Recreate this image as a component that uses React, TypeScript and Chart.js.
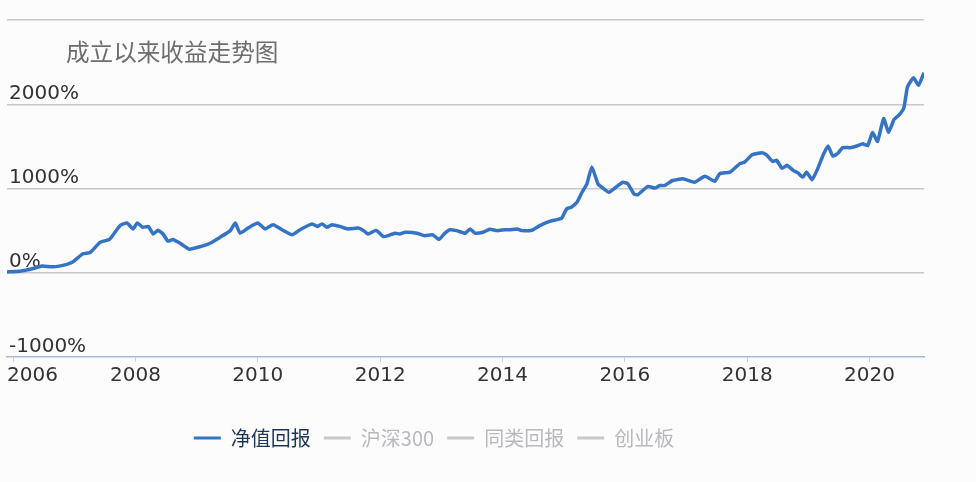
import React, { useEffect, useRef } from "react";
import { Chart, registerables } from "chart.js";

Chart.register(...registerables);

// ---- data ----
const chartTitle = "成立以来收益走势图";
const seriesNames = ["净值回报", "沪深300", "同类回报", "创业板"];

const years = [
  2005.9, 2006.11, 2006.33, 2006.47, 2006.65, 2006.88, 2006.98, 2007.14, 2007.26, 2007.42,
  2007.58, 2007.75, 2007.86, 2007.96, 2008.03, 2008.12, 2008.21, 2008.29, 2008.37, 2008.45,
  2008.53, 2008.61, 2008.73, 2008.88, 2009.06, 2009.22, 2009.38, 2009.55, 2009.63, 2009.71,
  2009.84, 2010.0, 2010.12, 2010.25, 2010.41, 2010.56, 2010.69, 2010.89, 2010.97, 2011.05,
  2011.13, 2011.21, 2011.34, 2011.47, 2011.64, 2011.72, 2011.8, 2011.92, 2011.96, 2012.05,
  2012.13, 2012.24, 2012.32, 2012.41, 2012.6, 2012.73, 2012.86, 2012.96, 2013.06, 2013.14,
  2013.25, 2013.39, 2013.47, 2013.55, 2013.68, 2013.79, 2013.91, 2014.04, 2014.12, 2014.24,
  2014.32, 2014.48, 2014.61, 2014.77, 2014.89, 2014.97, 2015.05, 2015.13, 2015.22, 2015.3,
  2015.38, 2015.46, 2015.56, 2015.64, 2015.74, 2015.87, 2015.97, 2016.05, 2016.15, 2016.21,
  2016.29, 2016.38, 2016.49, 2016.57, 2016.65, 2016.78, 2016.95, 2017.14, 2017.31, 2017.47,
  2017.55, 2017.72, 2017.88, 2017.96, 2018.08, 2018.24, 2018.32, 2018.42, 2018.48, 2018.57,
  2018.65, 2018.75, 2018.83, 2018.91, 2018.97, 2019.06, 2019.14, 2019.24, 2019.32, 2019.4,
  2019.48, 2019.56, 2019.68, 2019.79, 2019.89, 2019.97, 2020.05, 2020.13, 2020.23, 2020.31,
  2020.4, 2020.48, 2020.56, 2020.62, 2020.72, 2020.8, 2020.89,
];

const netValueReturn = [
  10, 18, 50, 80, 70, 100, 130, 225, 240, 360,
  400, 560, 590, 520, 590, 540, 550, 460, 505, 460,
  375, 395, 350, 280, 310, 350, 420, 500, 590, 470,
  530, 590, 520, 570, 505, 450, 510, 580, 550, 580,
  540, 570, 550, 520, 530, 505, 460, 500, 490, 430,
  440, 470, 460, 480, 470, 440, 450, 395, 470, 510,
  500, 470, 520, 470, 480, 515, 500, 510, 510, 520,
  500, 505, 560, 610, 630, 650, 760, 780, 840, 955,
  1055, 1255, 1055, 1005, 955, 1025, 1075, 1055, 935, 925,
  975, 1025, 1005, 1035, 1035, 1095, 1115, 1075, 1145, 1085,
  1175, 1195, 1295, 1315, 1400, 1425, 1395, 1320, 1335, 1240,
  1275, 1215, 1185, 1135, 1195, 1105, 1215, 1395, 1505, 1385,
  1415, 1485, 1485, 1505, 1530, 1510, 1665, 1560, 1830, 1665,
  1820, 1870, 1955, 2205, 2315, 2225, 2375,
];

// other series are switched off in the reference (no data shown)
const hs300Return: number[] = [];
const peerReturn: number[] = [];
const chinextReturn: number[] = [];

const xTickYears = [2006, 2008, 2010, 2012, 2014, 2016, 2018, 2020];
const yMin = -1000;
const yMax = 3000;
const yStep = 1000;

// ---- styles ----
const lineColors = ["#3574c4", "#c9c9cd", "#c9c9cd", "#c9c9cd"];
const legendTextColors = ["#1d3557", "#b9b9bd", "#b9b9bd", "#b9b9bd"];
const LEGEND_CENTER_X = 434;

const legendShift = {
  id: "legendShift",
  afterLayout(chart: any) {
    const lg = chart.legend;
    if (!lg) return;
    const cur = (lg.left + lg.right) / 2;
    const d = LEGEND_CENTER_X - cur;
    lg.left += d;
    lg.right += d;
  },
};

// keep the first x label inside the canvas (left-aligned at the plot's left edge)
const firstXLabelInside = {
  id: "firstXLabelInside",
  beforeDraw(chart: any) {
    const sx = chart.scales.x;
    if (!sx) return;
    const items = sx.getLabelItems();
    if (items && items.length) {
      const o = items[0].options;
      o.textAlign = "left";
      o.translation = [chart.chartArea.left, o.translation[1]];
    }
  },
};

export default function App() {
  const ref = useRef<HTMLCanvasElement | null>(null);

  useEffect(() => {
    if (!ref.current) return;
    const toPoints = (vals: number[]) => vals.map((v, i) => ({ x: years[i], y: v }));
    const chart = new Chart(ref.current, {
      type: "line",
      data: {
        datasets: [
          { label: seriesNames[0], data: toPoints(netValueReturn), borderColor: lineColors[0], backgroundColor: lineColors[0], borderWidth: 3.5, pointRadius: 0, tension: 0.15 },
          { label: seriesNames[1], data: toPoints(hs300Return), borderColor: lineColors[1], backgroundColor: lineColors[1], borderWidth: 2, pointRadius: 0 },
          { label: seriesNames[2], data: toPoints(peerReturn), borderColor: lineColors[2], backgroundColor: lineColors[2], borderWidth: 2, pointRadius: 0 },
          { label: seriesNames[3], data: toPoints(chinextReturn), borderColor: lineColors[3], backgroundColor: lineColors[3], borderWidth: 2, pointRadius: 0 },
        ],
      },
      options: {
        animation: false,
        responsive: false,
        maintainAspectRatio: false,
        layout: { padding: { top: 20, right: 52, bottom: 24, left: 0 } },
        plugins: {
          tooltip: { enabled: false },
          title: { display: false },
          legend: {
            display: true,
            position: "bottom",
            align: "center",
            labels: {
              boxWidth: 27,
              boxHeight: 3,
              padding: 13,
              font: { family: "'Noto Sans CJK SC', 'Noto Sans', sans-serif", size: 20 },
              generateLabels: (c: any) =>
                c.data.datasets.map((ds: any, i: number) => ({
                  text: ds.label,
                  fillStyle: ds.borderColor,
                  strokeStyle: ds.borderColor,
                  lineWidth: 0,
                  hidden: false,
                  datasetIndex: i,
                  fontColor: legendTextColors[i],
                })),
            },
          },
        },
        scales: {
          x: {
            type: "linear",
            min: years[0],
            max: years[years.length - 1],
            afterBuildTicks: (scale: any) => {
              scale.ticks = xTickYears.map((v) => ({ value: v }));
            },
            afterFit: (scale: any) => {
              scale.height = 58;
              scale.paddingLeft = 0;
              scale.paddingRight = 0;
            },
            border: { display: true, color: "#a9b9cf", width: 1.5 },
            grid: { drawOnChartArea: false, drawTicks: true, tickLength: 5, color: "#cfcfd3" },
            ticks: {
              padding: 2,
              color: "#333333",
              font: { family: "'DejaVu Sans', sans-serif", size: 20 },
              maxRotation: 0,
              autoSkip: false,
              callback: (v: any) => String(v),
            },
          },
          y: {
            type: "linear",
            min: yMin,
            max: yMax,
            afterFit: (scale: any) => {
              scale.width = 7;
              scale.paddingTop = 0;
              scale.paddingBottom = 0;
            },
            border: { display: false },
            grid: {
              drawTicks: false,
              lineWidth: 1.5,
              color: (ctx: any) => (ctx.tick && ctx.tick.value === yMin ? "rgba(0,0,0,0)" : "#c8c8cb"),
            },
            ticks: {
              stepSize: yStep,
              mirror: true,
              padding: 2,
              labelOffset: -10.5,
              color: "#333333",
              font: { family: "'DejaVu Sans', sans-serif", size: 20 },
              callback: (v: any) => (v === yMax ? "" : v + "%"),
            },
          },
        },
      },
      plugins: [legendShift, firstXLabelInside],
    });
    return () => chart.destroy();
  }, []);

  return (
    <div style={{ position: "fixed", left: 0, top: 0, width: 976, height: 482, background: "#fcfcfd", overflow: "hidden" }}>
      <canvas ref={ref} width={976} height={482} style={{ width: 976, height: 482, display: "block" }} />
      <div
        style={{
          position: "absolute",
          left: 66,
          top: 40,
          fontFamily: "'Noto Sans CJK SC', sans-serif",
          fontSize: 23.6,
          lineHeight: "23px",
          color: "#6e6e6e",
          whiteSpace: "nowrap",
        }}
      >
        {chartTitle}
      </div>
    </div>
  );
}
